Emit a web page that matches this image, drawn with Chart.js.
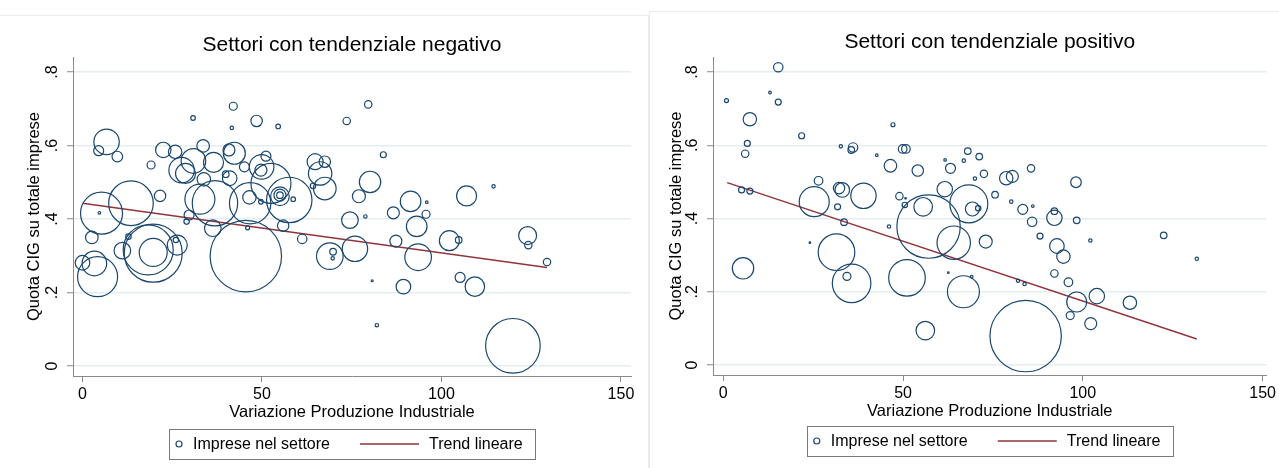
<!DOCTYPE html>
<html>
<head>
<meta charset="utf-8">
<script src="https://cdn.jsdelivr.net/npm/chart.js@4.4.0/dist/chart.umd.min.js"></script>
<style>
  body { margin: 0; background: #fff; width: 1279px; height: 468px; overflow: hidden; position: relative; }
  .bordo { position: absolute; }
  #bordoSx { left: -2px; top: 15px; width: 650px; height: 470px; border-top: 1px solid #e6edef; border-right: 1px solid #e6edef; }
  #bordoDx { left: 649px; top: 11px; width: 640px; height: 470px; border-top: 1px solid #e6edef; border-left: 1px solid #e6edef; }
  canvas { position: absolute; top: 0; }
  #canvas-neg { left: 0; }
  #canvas-pos { left: 649px; }
</style>
</head>
<body>
<div class="bordo" id="bordoSx"></div>
<div class="bordo" id="bordoDx"></div>
<canvas id="canvas-neg" width="648" height="468"></canvas>
<canvas id="canvas-pos" width="630" height="468"></canvas>
<script>
// settori con tendenziale negativo
const negX = [42.0, 30.8, 48.5, 41.6, 54.5, 73.6, 6.7, 4.5, 9.7, 22.5, 25.8, 33.6, 30.9, 36.5, 19.1, 40.8, 42.3, 45.1, 51.1, 49.9,
  49.7, 52.5, 64.8, 67.5, 66.2, 67.5, 64.2, 28.7, 27.6, 33.8, 41.0, 39.9, 21.6, 5.3, 4.7, 13.5, 32.7, 36.9, 46.7, 46.5,
  49.7, 55.0, 55.0, 57.6, 58.7, 55.0, 29.7, 29.0, 36.3, 46.0, 55.9, 74.5, 2.6, 0.0, 3.3, 4.2, 11.1, 19.7, 18.3, 19.7,
  26.4, 26.0, 12.8, 45.5, 61.2, 68.9, 69.8, 69.7, 75.9, 87.3, 93.1, 93.5, 102.2, 104.8, 124.0, 124.2, 129.4, 80.7, 89.4, 105.2,
  109.3, 82.0, 119.9, 79.6, 83.8, 80.1, 77.0, 91.4, 95.9, 86.6, 95.7, 107.0, 114.5, 78.8];
const negY = [0.707, 0.675, 0.667, 0.648, 0.652, 0.667, 0.610, 0.586, 0.570, 0.588, 0.583, 0.599, 0.558, 0.554, 0.547, 0.588, 0.579, 0.542, 0.571, 0.542,
  0.533, 0.497, 0.556, 0.556, 0.524, 0.483, 0.490, 0.524, 0.533, 0.508, 0.511, 0.522, 0.463, 0.416, 0.417, 0.443, 0.454, 0.443, 0.443, 0.459,
  0.447, 0.465, 0.465, 0.452, 0.454, 0.462, 0.411, 0.393, 0.375, 0.376, 0.382, 0.397, 0.350, 0.281, 0.279, 0.243, 0.314, 0.307, 0.316, 0.309,
  0.329, 0.343, 0.352, 0.299, 0.346, 0.299, 0.311, 0.293, 0.319, 0.340, 0.380, 0.296, 0.341, 0.343, 0.355, 0.329, 0.283, 0.232, 0.216, 0.241,
  0.216, 0.111, 0.055, 0.712, 0.575, 0.501, 0.462, 0.448, 0.446, 0.417, 0.413, 0.463, 0.489, 0.407];
const negR = [4, 2.3, 5.7, 1.7, 2.3, 3.7, 12.7, 5, 5.3, 7.7, 6.7, 6.3, 12.3, 10, 4, 6, 11, 5, 5, 12.3,
  6, 20, 8, 5.7, 11.7, 11.3, 2.7, 10, 12.7, 6.7, 7.3, 3.3, 5.7, 21, 1.3, 22.3, 15, 22.7, 20.7, 6.7,
  2.3, 6, 3.3, 22.7, 2.3, 9.3, 5, 2.7, 8.3, 2, 5.7, 8.3, 6.3, 7.3, 12.3, 20, 8.3, 29, 25, 14,
  10, 2.7, 2.7, 35.7, 4.7, 13.3, 3.3, 1.7, 12.7, 6, 10.3, 13.3, 10, 3.3, 9, 3.7, 3.7, 1, 7.3, 5,
  9.7, 1.7, 27.3, 3.7, 3, 10.7, 6.5, 10.3, 1.3, 6, 4, 10, 1.7, 1.7];
const negTrendX = [0, 129.4];
const negTrendY = [0.443, 0.268];

// settori con tendenziale positivo
const posX = [15.3, 0.9, 13.0, 15.3, 7.4, 21.8, 6.7, 6.1, 5.1, 7.4, 26.5, 25.3, 32.2, 33.1, 39.0, 31.8, 33.6, 32.7, 36.1, 35.6,
  42.7, 47.2, 46.5, 49.9, 50.8, 54.1, 61.7, 63.2, 68.0, 66.9, 71.2, 70.0, 72.5, 61.6, 68.3, 69.3, 70.9, 55.6, 49.0, 50.5,
  57.1, 64.1, 46.1, 5.5, 31.5, 35.7, 34.4, 24.1, 73.0, 51.1, 66.8, 69.1, 62.6, 56.2, 78.7, 80.4, 85.6, 98.1, 75.6, 80.1,
  86.1, 83.3, 85.9, 92.1, 92.1, 98.3, 88.1, 122.5, 102.1, 92.8, 94.6, 131.7, 92.1, 96.0, 82.0, 83.8, 98.3, 103.9, 113.1, 96.5,
  102.2, 84.1, 50.7];
const posY = [0.813, 0.722, 0.744, 0.718, 0.671, 0.626, 0.605, 0.577, 0.478, 0.475, 0.503, 0.446, 0.483, 0.478, 0.462, 0.432, 0.390, 0.597, 0.594, 0.587,
  0.573, 0.656, 0.544, 0.590, 0.590, 0.531, 0.560, 0.537, 0.584, 0.558, 0.569, 0.509, 0.522, 0.480, 0.440, 0.426, 0.428, 0.432, 0.461, 0.437,
  0.378, 0.334, 0.378, 0.264, 0.308, 0.223, 0.242, 0.334, 0.337, 0.238, 0.200, 0.241, 0.252, 0.094, 0.510, 0.515, 0.537, 0.499, 0.465, 0.446,
  0.434, 0.425, 0.391, 0.402, 0.420, 0.395, 0.352, 0.354, 0.340, 0.325, 0.296, 0.290, 0.250, 0.226, 0.230, 0.221, 0.172, 0.188, 0.170, 0.135,
  0.113, 0.079, 0.455];
const posR = [4.7, 2, 1.3, 3, 6.7, 3, 3, 3.7, 3, 3, 4.3, 15, 5.7, 7.3, 12.7, 3, 3.3, 1.7, 4.7, 3.3,
  1.3, 2, 6.3, 4.3, 4.3, 5.7, 1.3, 5, 3.3, 1.7, 3.3, 1.7, 3.7, 7.7, 19, 7, 2.7, 9.3, 3.7, 2.7,
  31.7, 16.7, 1.7, 10.7, 18.3, 19.3, 4, 0.8, 6.5, 18.3, 16, 1.3, 0.8, 9.3, 6.7, 6, 3.7, 5.3, 3.3, 1.7,
  1.3, 5, 4.7, 7.7, 3.3, 3.3, 3, 3.3, 1.7, 7.3, 6.7, 1.7, 3.7, 4.3, 1.7, 1.7, 10, 7.7, 6.7, 4,
  6, 35.7, 0.8];
const posTrendX = [1.1, 131.7];
const posTrendY = [0.498, 0.071];

const xTicks = [0, 50, 100, 150];
const yTicks = [0, 0.2, 0.4, 0.6, 0.8];
const yTickLabels = ['0', '.2', '.4', '.6', '.8'];

const FONT = '"Liberation Sans", Arial, sans-serif';
const BLU = '#1a476f';
const ROSSO = '#90353b';
const GRIGIO = '#8a8a8a';

// titolo, etichette y ruotate (stile Stata) e legenda in riquadro
const decoro = {
    id: 'decoro',
    afterDraw(chart, args, o) {
        const ctx = chart.ctx;
        const a = chart.chartArea;
        const cx = (a.left + a.right) / 2;
        ctx.save();
        ctx.fillStyle = '#000';
        ctx.textAlign = 'center';
        ctx.textBaseline = 'middle';
        ctx.font = '21px ' + FONT;
        ctx.fillText(o.titolo, cx, o.titoloY);

        ctx.font = '16px ' + FONT;
        yTicks.forEach(function (v, i) {
            const py = chart.scales.y.getPixelForValue(v);
            ctx.save();
            ctx.translate(a.left - 20, py);
            ctx.rotate(-Math.PI / 2);
            ctx.fillText(yTickLabels[i], 0, 0);
            ctx.restore();
        });

        // legenda
        const w = 366, h = 30;
        const lx = cx - w / 2, ly = o.legendaY, my = ly + h / 2;
        ctx.strokeStyle = '#7a7a7a';
        ctx.lineWidth = 1;
        ctx.strokeRect(Math.round(lx) + 0.5, Math.round(ly) + 0.5, w, h);
        ctx.strokeStyle = BLU;
        ctx.lineWidth = 1.2;
        ctx.beginPath();
        ctx.arc(lx + 10, my, 3, 0, Math.PI * 2);
        ctx.stroke();
        ctx.strokeStyle = ROSSO;
        ctx.lineWidth = 1.5;
        ctx.beginPath();
        ctx.moveTo(lx + 191, my);
        ctx.lineTo(lx + 250, my);
        ctx.stroke();
        ctx.textAlign = 'left';
        ctx.fillStyle = '#000';
        ctx.fillText(chart.data.datasets[0].label, lx + 24, my + 1);
        ctx.fillText(chart.data.datasets[1].label, lx + 260, my + 1);
        ctx.restore();
    }
};

function buildChart(id, xs, ys, rs, tx, ty, cfg) {
    const ctx = document.getElementById(id).getContext('2d');
    return new Chart(ctx, {
        type: 'bubble',
        data: {
            datasets: [{
                label: 'Imprese nel settore',
                data: xs.map(function (x, i) { return { x: x, y: ys[i], r: rs[i] }; }),
                borderColor: BLU,
                backgroundColor: 'rgba(0,0,0,0)',
                borderWidth: 1.2,
                clip: false
            }, {
                type: 'line',
                label: 'Trend lineare',
                data: tx.map(function (x, i) { return { x: x, y: ty[i] }; }),
                borderColor: ROSSO,
                borderWidth: 1.5,
                pointRadius: 0,
                fill: false
            }]
        },
        options: {
            responsive: false,
            animation: false,
            layout: { padding: cfg.padding, autoPadding: false },
            scales: {
                x: {
                    type: 'linear',
                    min: cfg.xmin,
                    max: cfg.xmax,
                    afterBuildTicks: function (s) { s.ticks = xTicks.map(function (v) { return { value: v }; }); },
                    afterFit: function (s) { s.height = 46; },
                    ticks: { color: '#000', font: { family: FONT, size: 16 }, padding: 3, maxRotation: 0 },
                    grid: { drawOnChartArea: false, tickLength: 6, tickColor: GRIGIO, tickWidth: 1 },
                    border: { display: true, color: GRIGIO, width: 1 },
                    title: { display: true, text: 'Variazione Produzione Industriale', color: '#000', font: { family: FONT, size: 16.5 }, padding: { top: 0, bottom: 0 } }
                },
                y: {
                    type: 'linear',
                    min: cfg.ymin,
                    max: cfg.ymax,
                    afterBuildTicks: function (s) { s.ticks = yTicks.map(function (v) { return { value: v }; }); },
                    afterFit: function (s) { s.width = cfg.yWidth; },
                    ticks: { display: false },
                    grid: { color: '#e4edef', lineWidth: 1.5, tickLength: 6, tickColor: GRIGIO, tickWidth: 1 },
                    border: { display: true, color: GRIGIO, width: 1 },
                    title: { display: true, text: 'Quota CIG su totale imprese', color: '#000', font: { family: FONT, size: 16.5 }, padding: { top: cfg.yTitlePad, bottom: 0 } }
                }
            },
            plugins: {
                legend: { display: false },
                tooltip: { enabled: false },
                decoro: { titolo: cfg.titolo, titoloY: cfg.titoloY, legendaY: cfg.legendaY }
            }
        },
        plugins: [decoro]
    });
}

buildChart('canvas-neg', negX, negY, negR, negTrendX, negTrendY, {
    titolo: 'Settori con tendenziale negativo', titoloY: 45, legendaY: 429,
    padding: { top: 57, right: 17, bottom: 46, left: 0 },
    yWidth: 73, yTitlePad: 25,
    xmin: -2.65, xmax: 152.8, ymin: -0.0272, ymax: 0.841
});

buildChart('canvas-pos', posX, posY, posR, posTrendX, posTrendY, {
    titolo: 'Settori con tendenziale positivo', titoloY: 42, legendaY: 426,
    padding: { top: 57, right: 9, bottom: 47, left: 0 },
    yWidth: 64, yTitlePad: 18,
    xmin: -2.85, xmax: 151.1, ymin: -0.0273, ymax: 0.841
});
</script>
</body>
</html>
